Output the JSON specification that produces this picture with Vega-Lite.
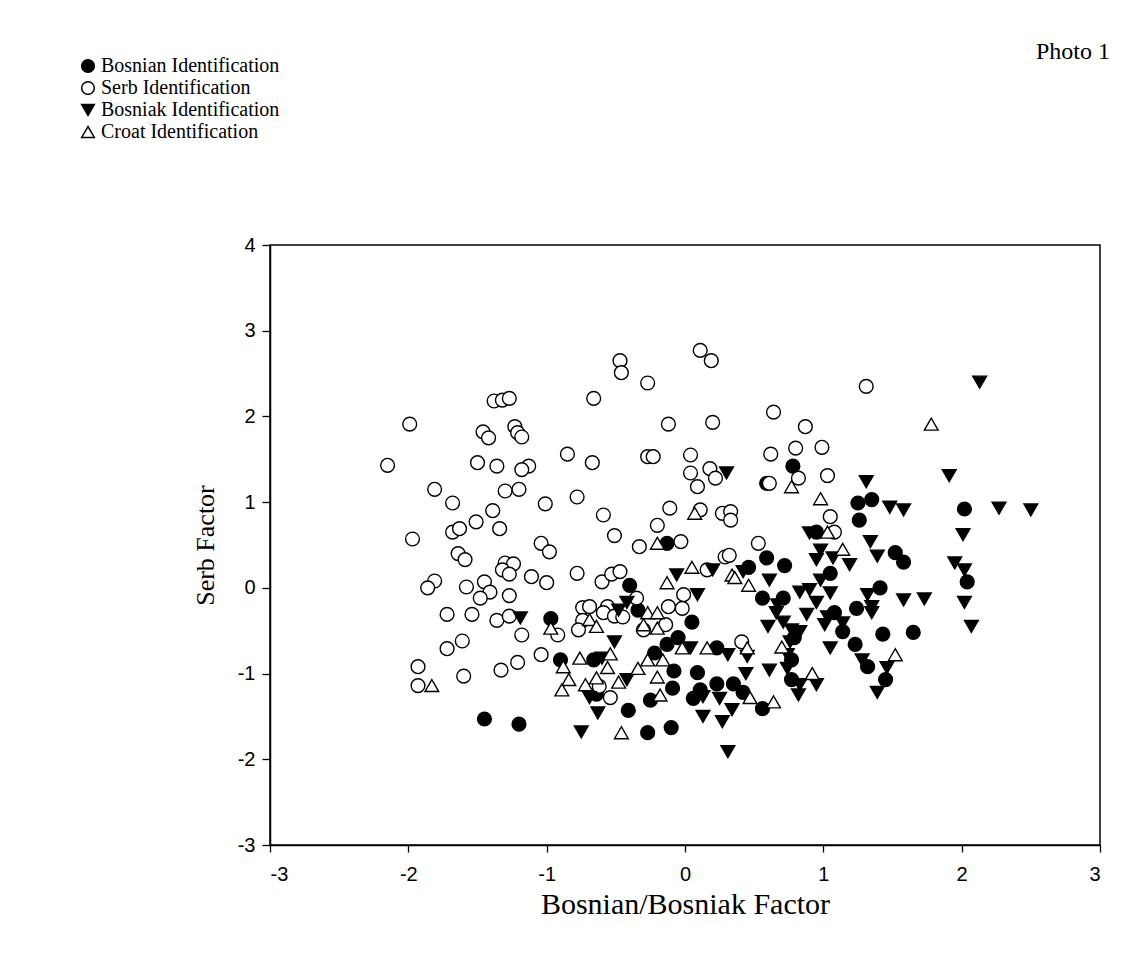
{
  "$schema": "https://vega.github.io/schema/vega-lite/v6.json",
  "autosize": "none",
  "width": 830,
  "height": 600,
  "padding": {"left": 270, "top": 245, "right": 33, "bottom": 109},
  "background": "white",
  "title": {"text": "Photo 1", "anchor": "end", "frame": "group", "orient": "top", "offset": 0, "dy": 8, "dx": 10, "font": "Liberation Serif", "fontSize": 24, "fontWeight": "normal", "color": "black"},
  "config": {
    "view": {"stroke": "black", "strokeWidth": 1.5},
    "axis": {"grid": false, "domainColor": "black", "domainWidth": 1.5, "tickColor": "black", "tickWidth": 1.3, "tickSize": 7, "labelColor": "black", "labelFont": "Liberation Sans", "labelFontSize": 20, "titleColor": "black", "titleFont": "Liberation Serif", "titleFontWeight": "normal", "titleFontSize": 30},
    "legend": {"orient": "none", "legendX": -192, "legendY": -189, "labelFont": "Liberation Serif", "labelFontSize": 20, "labelColor": "black", "labelLimit": 0, "symbolSize": 160, "symbolStrokeWidth": 1.5, "rowPadding": 2, "labelOffset": 3, "padding": 0}
  },
  "data": {"values": [
    {"g":"Bosnian Identification","x":-0.97,"y":-0.36},{"g":"Bosnian Identification","x":-0.90,"y":-0.84},{"g":"Bosnian Identification","x":-0.66,"y":-0.84},{"g":"Bosnian Identification","x":-0.64,"y":-1.24},{"g":"Bosnian Identification","x":-1.45,"y":-1.53},{"g":"Bosnian Identification","x":-1.20,"y":-1.59},{"g":"Bosnian Identification","x":0.78,"y":1.42},{"g":"Bosnian Identification","x":0.59,"y":1.22},{"g":"Bosnian Identification","x":1.25,"y":0.99},{"g":"Bosnian Identification","x":1.35,"y":1.03},{"g":"Bosnian Identification","x":2.02,"y":0.92},{"g":"Bosnian Identification","x":1.26,"y":0.79},{"g":"Bosnian Identification","x":1.52,"y":0.41},{"g":"Bosnian Identification","x":1.58,"y":0.30},{"g":"Bosnian Identification","x":2.04,"y":0.07},{"g":"Bosnian Identification","x":1.05,"y":0.17},{"g":"Bosnian Identification","x":1.41,"y":0.00},{"g":"Bosnian Identification","x":1.24,"y":-0.24},{"g":"Bosnian Identification","x":1.08,"y":-0.29},{"g":"Bosnian Identification","x":1.14,"y":-0.51},{"g":"Bosnian Identification","x":1.43,"y":-0.54},{"g":"Bosnian Identification","x":1.65,"y":-0.52},{"g":"Bosnian Identification","x":1.23,"y":-0.66},{"g":"Bosnian Identification","x":1.32,"y":-0.92},{"g":"Bosnian Identification","x":1.45,"y":-1.07},{"g":"Bosnian Identification","x":-0.13,"y":0.52},{"g":"Bosnian Identification","x":0.95,"y":0.65},{"g":"Bosnian Identification","x":0.59,"y":0.35},{"g":"Bosnian Identification","x":0.72,"y":0.26},{"g":"Bosnian Identification","x":0.46,"y":0.24},{"g":"Bosnian Identification","x":-0.40,"y":0.03},{"g":"Bosnian Identification","x":0.56,"y":-0.12},{"g":"Bosnian Identification","x":0.71,"y":-0.12},{"g":"Bosnian Identification","x":-0.34,"y":-0.26},{"g":"Bosnian Identification","x":0.05,"y":-0.40},{"g":"Bosnian Identification","x":0.79,"y":-0.58},{"g":"Bosnian Identification","x":-0.13,"y":-0.66},{"g":"Bosnian Identification","x":-0.05,"y":-0.58},{"g":"Bosnian Identification","x":0.23,"y":-0.70},{"g":"Bosnian Identification","x":0.77,"y":-0.84},{"g":"Bosnian Identification","x":-0.22,"y":-0.76},{"g":"Bosnian Identification","x":-0.08,"y":-0.97},{"g":"Bosnian Identification","x":0.09,"y":-0.99},{"g":"Bosnian Identification","x":0.23,"y":-1.12},{"g":"Bosnian Identification","x":0.35,"y":-1.12},{"g":"Bosnian Identification","x":-0.09,"y":-1.17},{"g":"Bosnian Identification","x":-0.25,"y":-1.31},{"g":"Bosnian Identification","x":-0.41,"y":-1.43},{"g":"Bosnian Identification","x":0.11,"y":-1.19},{"g":"Bosnian Identification","x":0.06,"y":-1.29},{"g":"Bosnian Identification","x":0.42,"y":-1.22},{"g":"Bosnian Identification","x":0.56,"y":-1.41},{"g":"Bosnian Identification","x":0.77,"y":-1.07},{"g":"Bosnian Identification","x":-0.27,"y":-1.69},{"g":"Bosnian Identification","x":-0.10,"y":-1.63},
    {"g":"Serb Identification","x":-2.15,"y":1.43},{"g":"Serb Identification","x":-1.99,"y":1.91},{"g":"Serb Identification","x":-1.97,"y":0.57},{"g":"Serb Identification","x":-1.93,"y":-0.92},{"g":"Serb Identification","x":-1.93,"y":-1.14},{"g":"Serb Identification","x":-0.47,"y":2.65},{"g":"Serb Identification","x":-0.46,"y":2.51},{"g":"Serb Identification","x":-1.38,"y":2.18},{"g":"Serb Identification","x":-1.32,"y":2.19},{"g":"Serb Identification","x":-1.27,"y":2.21},{"g":"Serb Identification","x":-0.66,"y":2.21},{"g":"Serb Identification","x":-1.46,"y":1.82},{"g":"Serb Identification","x":-1.42,"y":1.75},{"g":"Serb Identification","x":-1.23,"y":1.88},{"g":"Serb Identification","x":-1.21,"y":1.81},{"g":"Serb Identification","x":-1.18,"y":1.76},{"g":"Serb Identification","x":-0.85,"y":1.56},{"g":"Serb Identification","x":-1.50,"y":1.46},{"g":"Serb Identification","x":-1.36,"y":1.42},{"g":"Serb Identification","x":-1.13,"y":1.42},{"g":"Serb Identification","x":-1.18,"y":1.38},{"g":"Serb Identification","x":-0.67,"y":1.46},{"g":"Serb Identification","x":-1.81,"y":1.15},{"g":"Serb Identification","x":-1.68,"y":0.99},{"g":"Serb Identification","x":-1.30,"y":1.13},{"g":"Serb Identification","x":-1.20,"y":1.15},{"g":"Serb Identification","x":-1.01,"y":0.98},{"g":"Serb Identification","x":-0.78,"y":1.06},{"g":"Serb Identification","x":-1.39,"y":0.90},{"g":"Serb Identification","x":-1.51,"y":0.77},{"g":"Serb Identification","x":-0.59,"y":0.85},{"g":"Serb Identification","x":-1.68,"y":0.65},{"g":"Serb Identification","x":-1.63,"y":0.69},{"g":"Serb Identification","x":-1.34,"y":0.69},{"g":"Serb Identification","x":-0.51,"y":0.61},{"g":"Serb Identification","x":-1.04,"y":0.52},{"g":"Serb Identification","x":-0.98,"y":0.42},{"g":"Serb Identification","x":-1.64,"y":0.40},{"g":"Serb Identification","x":-1.59,"y":0.33},{"g":"Serb Identification","x":-1.30,"y":0.29},{"g":"Serb Identification","x":-1.24,"y":0.28},{"g":"Serb Identification","x":-1.32,"y":0.21},{"g":"Serb Identification","x":-1.27,"y":0.16},{"g":"Serb Identification","x":-0.78,"y":0.17},{"g":"Serb Identification","x":-1.11,"y":0.13},{"g":"Serb Identification","x":-1.00,"y":0.06},{"g":"Serb Identification","x":-0.60,"y":0.07},{"g":"Serb Identification","x":-0.53,"y":0.16},{"g":"Serb Identification","x":-0.47,"y":0.19},{"g":"Serb Identification","x":-1.81,"y":0.08},{"g":"Serb Identification","x":-1.86,"y":0.00},{"g":"Serb Identification","x":-1.58,"y":0.01},{"g":"Serb Identification","x":-1.45,"y":0.07},{"g":"Serb Identification","x":-1.41,"y":-0.05},{"g":"Serb Identification","x":-1.48,"y":-0.12},{"g":"Serb Identification","x":-1.27,"y":-0.09},{"g":"Serb Identification","x":-1.72,"y":-0.31},{"g":"Serb Identification","x":-1.54,"y":-0.31},{"g":"Serb Identification","x":-1.36,"y":-0.38},{"g":"Serb Identification","x":-1.27,"y":-0.33},{"g":"Serb Identification","x":-0.92,"y":-0.55},{"g":"Serb Identification","x":-1.18,"y":-0.55},{"g":"Serb Identification","x":-0.74,"y":-0.23},{"g":"Serb Identification","x":-0.69,"y":-0.22},{"g":"Serb Identification","x":-0.74,"y":-0.38},{"g":"Serb Identification","x":-0.77,"y":-0.49},{"g":"Serb Identification","x":-0.56,"y":-0.22},{"g":"Serb Identification","x":-0.59,"y":-0.29},{"g":"Serb Identification","x":-0.51,"y":-0.33},{"g":"Serb Identification","x":-1.61,"y":-0.62},{"g":"Serb Identification","x":-1.72,"y":-0.71},{"g":"Serb Identification","x":-1.04,"y":-0.78},{"g":"Serb Identification","x":-1.21,"y":-0.87},{"g":"Serb Identification","x":-1.33,"y":-0.96},{"g":"Serb Identification","x":-1.60,"y":-1.03},{"g":"Serb Identification","x":-0.62,"y":-1.15},{"g":"Serb Identification","x":-0.54,"y":-1.28},{"g":"Serb Identification","x":-0.27,"y":2.39},{"g":"Serb Identification","x":0.11,"y":2.77},{"g":"Serb Identification","x":0.19,"y":2.65},{"g":"Serb Identification","x":-0.12,"y":1.91},{"g":"Serb Identification","x":0.20,"y":1.93},{"g":"Serb Identification","x":0.64,"y":2.05},{"g":"Serb Identification","x":0.87,"y":1.88},{"g":"Serb Identification","x":-0.27,"y":1.53},{"g":"Serb Identification","x":-0.23,"y":1.53},{"g":"Serb Identification","x":0.04,"y":1.55},{"g":"Serb Identification","x":0.04,"y":1.34},{"g":"Serb Identification","x":0.18,"y":1.39},{"g":"Serb Identification","x":0.22,"y":1.28},{"g":"Serb Identification","x":0.09,"y":1.18},{"g":"Serb Identification","x":0.62,"y":1.56},{"g":"Serb Identification","x":0.80,"y":1.63},{"g":"Serb Identification","x":0.99,"y":1.64},{"g":"Serb Identification","x":0.82,"y":1.28},{"g":"Serb Identification","x":1.03,"y":1.31},{"g":"Serb Identification","x":0.61,"y":1.22},{"g":"Serb Identification","x":-0.11,"y":0.93},{"g":"Serb Identification","x":0.11,"y":0.91},{"g":"Serb Identification","x":0.27,"y":0.87},{"g":"Serb Identification","x":0.33,"y":0.89},{"g":"Serb Identification","x":0.33,"y":0.79},{"g":"Serb Identification","x":1.05,"y":0.83},{"g":"Serb Identification","x":1.31,"y":2.35},{"g":"Serb Identification","x":1.08,"y":0.65},{"g":"Serb Identification","x":-0.20,"y":0.73},{"g":"Serb Identification","x":-0.33,"y":0.48},{"g":"Serb Identification","x":-0.03,"y":0.54},{"g":"Serb Identification","x":0.53,"y":0.52},{"g":"Serb Identification","x":0.29,"y":0.36},{"g":"Serb Identification","x":0.32,"y":0.38},{"g":"Serb Identification","x":0.16,"y":0.21},{"g":"Serb Identification","x":-0.01,"y":-0.08},{"g":"Serb Identification","x":-0.35,"y":-0.12},{"g":"Serb Identification","x":-0.45,"y":-0.34},{"g":"Serb Identification","x":-0.12,"y":-0.22},{"g":"Serb Identification","x":-0.02,"y":-0.24},{"g":"Serb Identification","x":-0.30,"y":-0.49},{"g":"Serb Identification","x":-0.14,"y":-0.43},{"g":"Serb Identification","x":0.41,"y":-0.63},
    {"g":"Bosniak Identification","x":-1.19,"y":-0.35},{"g":"Bosniak Identification","x":-0.48,"y":-0.26},{"g":"Bosniak Identification","x":-0.51,"y":-0.63},{"g":"Bosniak Identification","x":-0.60,"y":-0.82},{"g":"Bosniak Identification","x":-0.69,"y":-1.28},{"g":"Bosniak Identification","x":-0.63,"y":-1.46},{"g":"Bosniak Identification","x":-0.75,"y":-1.68},{"g":"Bosniak Identification","x":0.30,"y":1.34},{"g":"Bosniak Identification","x":2.13,"y":2.40},{"g":"Bosniak Identification","x":1.91,"y":1.31},{"g":"Bosniak Identification","x":1.31,"y":1.24},{"g":"Bosniak Identification","x":1.48,"y":0.94},{"g":"Bosniak Identification","x":1.58,"y":0.91},{"g":"Bosniak Identification","x":2.27,"y":0.93},{"g":"Bosniak Identification","x":2.50,"y":0.91},{"g":"Bosniak Identification","x":1.34,"y":0.54},{"g":"Bosniak Identification","x":1.39,"y":0.37},{"g":"Bosniak Identification","x":1.07,"y":0.35},{"g":"Bosniak Identification","x":1.19,"y":0.27},{"g":"Bosniak Identification","x":2.01,"y":0.62},{"g":"Bosniak Identification","x":1.95,"y":0.29},{"g":"Bosniak Identification","x":2.02,"y":0.21},{"g":"Bosniak Identification","x":1.32,"y":-0.08},{"g":"Bosniak Identification","x":1.35,"y":-0.22},{"g":"Bosniak Identification","x":1.35,"y":-0.29},{"g":"Bosniak Identification","x":1.58,"y":-0.14},{"g":"Bosniak Identification","x":1.73,"y":-0.13},{"g":"Bosniak Identification","x":2.02,"y":-0.17},{"g":"Bosniak Identification","x":2.07,"y":-0.45},{"g":"Bosniak Identification","x":1.05,"y":-0.06},{"g":"Bosniak Identification","x":1.14,"y":-0.41},{"g":"Bosniak Identification","x":1.05,"y":-0.70},{"g":"Bosniak Identification","x":1.28,"y":-0.84},{"g":"Bosniak Identification","x":1.46,"y":-0.93},{"g":"Bosniak Identification","x":1.39,"y":-1.22},{"g":"Bosniak Identification","x":0.90,"y":0.64},{"g":"Bosniak Identification","x":0.98,"y":0.44},{"g":"Bosniak Identification","x":0.95,"y":0.33},{"g":"Bosniak Identification","x":0.20,"y":0.21},{"g":"Bosniak Identification","x":-0.06,"y":0.15},{"g":"Bosniak Identification","x":0.42,"y":0.19},{"g":"Bosniak Identification","x":0.61,"y":0.09},{"g":"Bosniak Identification","x":0.98,"y":0.09},{"g":"Bosniak Identification","x":0.83,"y":-0.05},{"g":"Bosniak Identification","x":0.90,"y":-0.02},{"g":"Bosniak Identification","x":0.09,"y":-0.08},{"g":"Bosniak Identification","x":0.67,"y":-0.20},{"g":"Bosniak Identification","x":0.66,"y":-0.29},{"g":"Bosniak Identification","x":0.88,"y":-0.31},{"g":"Bosniak Identification","x":0.95,"y":-0.17},{"g":"Bosniak Identification","x":1.03,"y":-0.34},{"g":"Bosniak Identification","x":-0.42,"y":-0.17},{"g":"Bosniak Identification","x":0.60,"y":-0.45},{"g":"Bosniak Identification","x":0.71,"y":-0.40},{"g":"Bosniak Identification","x":0.77,"y":-0.49},{"g":"Bosniak Identification","x":0.83,"y":-0.51},{"g":"Bosniak Identification","x":0.76,"y":-0.63},{"g":"Bosniak Identification","x":1.01,"y":-0.43},{"g":"Bosniak Identification","x":0.04,"y":-0.70},{"g":"Bosniak Identification","x":0.31,"y":-0.78},{"g":"Bosniak Identification","x":0.45,"y":-0.80},{"g":"Bosniak Identification","x":0.74,"y":-0.78},{"g":"Bosniak Identification","x":0.44,"y":-1.00},{"g":"Bosniak Identification","x":0.61,"y":-0.96},{"g":"Bosniak Identification","x":0.74,"y":-0.94},{"g":"Bosniak Identification","x":-0.42,"y":-1.07},{"g":"Bosniak Identification","x":0.13,"y":-1.27},{"g":"Bosniak Identification","x":0.25,"y":-1.29},{"g":"Bosniak Identification","x":0.34,"y":-1.42},{"g":"Bosniak Identification","x":0.13,"y":-1.50},{"g":"Bosniak Identification","x":0.27,"y":-1.56},{"g":"Bosniak Identification","x":0.31,"y":-1.91},{"g":"Bosniak Identification","x":0.83,"y":-1.13},{"g":"Bosniak Identification","x":0.82,"y":-1.25},{"g":"Bosniak Identification","x":0.95,"y":-1.13},
    {"g":"Croat Identification","x":-0.97,"y":-0.47},{"g":"Croat Identification","x":-0.69,"y":-0.37},{"g":"Croat Identification","x":-0.64,"y":-0.45},{"g":"Croat Identification","x":-0.88,"y":-0.92},{"g":"Croat Identification","x":-0.76,"y":-0.82},{"g":"Croat Identification","x":-0.54,"y":-0.77},{"g":"Croat Identification","x":-0.56,"y":-0.93},{"g":"Croat Identification","x":-1.83,"y":-1.14},{"g":"Croat Identification","x":-0.84,"y":-1.07},{"g":"Croat Identification","x":-0.89,"y":-1.19},{"g":"Croat Identification","x":-0.72,"y":-1.13},{"g":"Croat Identification","x":-0.64,"y":-1.05},{"g":"Croat Identification","x":-0.48,"y":-1.10},{"g":"Croat Identification","x":-0.46,"y":-1.69},{"g":"Croat Identification","x":0.77,"y":1.18},{"g":"Croat Identification","x":0.98,"y":1.04},{"g":"Croat Identification","x":0.07,"y":0.87},{"g":"Croat Identification","x":1.78,"y":1.91},{"g":"Croat Identification","x":1.14,"y":0.45},{"g":"Croat Identification","x":1.52,"y":-0.78},{"g":"Croat Identification","x":-0.20,"y":0.52},{"g":"Croat Identification","x":1.03,"y":0.65},{"g":"Croat Identification","x":0.05,"y":0.24},{"g":"Croat Identification","x":-0.13,"y":0.06},{"g":"Croat Identification","x":0.34,"y":0.15},{"g":"Croat Identification","x":0.36,"y":0.12},{"g":"Croat Identification","x":0.46,"y":0.03},{"g":"Croat Identification","x":-0.27,"y":-0.29},{"g":"Croat Identification","x":-0.20,"y":-0.29},{"g":"Croat Identification","x":-0.30,"y":-0.43},{"g":"Croat Identification","x":-0.20,"y":-0.47},{"g":"Croat Identification","x":-0.02,"y":-0.70},{"g":"Croat Identification","x":0.16,"y":-0.70},{"g":"Croat Identification","x":0.45,"y":-0.70},{"g":"Croat Identification","x":0.70,"y":-0.69},{"g":"Croat Identification","x":-0.27,"y":-0.84},{"g":"Croat Identification","x":-0.16,"y":-0.84},{"g":"Croat Identification","x":-0.34,"y":-0.94},{"g":"Croat Identification","x":0.92,"y":-1.00},{"g":"Croat Identification","x":-0.20,"y":-1.04},{"g":"Croat Identification","x":-0.18,"y":-1.25},{"g":"Croat Identification","x":0.47,"y":-1.28},{"g":"Croat Identification","x":0.64,"y":-1.33}
  ]},
  "mark": {"type": "point", "filled": true, "strokeWidth": 1.4, "opacity": 1, "size": 190},
  "encoding": {
    "x": {"field": "x", "type": "quantitative", "scale": {"domain": [-3, 3], "nice": false, "zero": false},
      "axis": {"values": [-3, -2, -1, 0, 1, 2, 3], "labelExpr": "'' + datum.value", "labelPadding": 12, "title": "Bosnian/Bosniak Factor", "titlePadding": 5}},
    "y": {"field": "y", "type": "quantitative", "scale": {"domain": [-3, 4], "nice": false, "zero": false},
      "axis": {"values": [-3, -2, -1, 0, 1, 2, 3, 4], "labelExpr": "'' + datum.value", "tickSize": 8, "labelPadding": 7, "title": "Serb Factor", "titleFontSize": 26, "titlePadding": 19}},
    "shape": {"field": "g", "type": "nominal", "title": null, "scale": {"domain": ["Bosnian Identification", "Serb Identification", "Bosniak Identification", "Croat Identification"], "range": ["circle", "circle", "triangle-down", "triangle-up"]}},
    "fill": {"field": "g", "type": "nominal", "title": null, "scale": {"domain": ["Bosnian Identification", "Serb Identification", "Bosniak Identification", "Croat Identification"], "range": ["black", "white", "black", "white"]}},
    "stroke": {"field": "g", "type": "nominal", "title": null, "scale": {"domain": ["Bosnian Identification", "Serb Identification", "Bosniak Identification", "Croat Identification"], "range": ["black", "black", "black", "black"]}}
  }
}
